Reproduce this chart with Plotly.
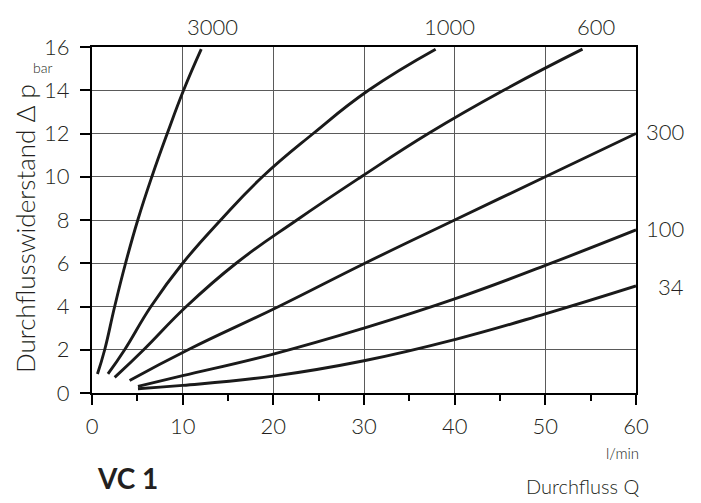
import plotly.graph_objects as go

# Pressure drop Δp (bar) over flow rate Q (l/min) for VC 1, one curve per viscosity
visc_labels = ["3000", "1000", "600", "300", "100", "34"]

q_3000 = [0.6, 1.4, 2.5, 3.7, 5.05, 6.6, 8.3, 10.1, 12.05]
dp_3000 = [0.88, 2.0, 4.0, 6.0, 8.0, 10.0, 12.0, 14.0, 15.9]

q_1000 = [1.76, 3.6, 6.5, 10.0, 14.2, 18.8, 24.4, 30.5, 37.9]
dp_1000 = [0.88, 2.0, 4.0, 6.0, 8.0, 10.0, 12.0, 14.0, 15.9]

q_600 = [2.5, 5.7, 10.4, 15.9, 22.6, 29.7, 37.1, 45.4, 54.1]
dp_600 = [0.72, 2.0, 4.0, 6.0, 8.0, 10.0, 12.0, 14.0, 15.9]

q_300 = [4.15, 10.6, 20.6, 30.1, 40.0, 50.0, 60.0]
dp_300 = [0.58, 2.0, 4.0, 6.0, 8.0, 10.0, 12.0]

q_100 = [5.07, 10.0, 20.0, 30.0, 40.0, 50.0, 60.0]
dp_100 = [0.31, 0.8, 1.8, 3.0, 4.35, 5.9, 7.54]

q_34 = [5.07, 10.0, 20.0, 30.0, 40.0, 50.0, 60.0]
dp_34 = [0.2, 0.35, 0.78, 1.49, 2.47, 3.66, 4.95]

x_ticks = [0, 10, 20, 30, 40, 50, 60]
y_ticks = [0, 2, 4, 6, 8, 10, 12, 14, 16]

series = [
    (q_3000, dp_3000),
    (q_1000, dp_1000),
    (q_600, dp_600),
    (q_300, dp_300),
    (q_100, dp_100),
    (q_34, dp_34),
]

FONT = "Lato"
TXT = "#231f20"

fig = go.Figure()
for name, (q, dp) in zip(visc_labels, series):
    fig.add_trace(go.Scatter(
        x=q, y=dp, mode="lines", name=name,
        line=dict(color="#1a1a1a", width=2.9, shape="spline", smoothing=1.3),
        hoverinfo="skip", showlegend=False,
    ))

axis_common = dict(
    showline=True, linecolor="black", linewidth=2, mirror=True,
    showgrid=True, gridcolor="#5a5a5a", gridwidth=1,
    zeroline=False,
    ticks="outside", ticklen=10, tickwidth=1.5, tickcolor="black",
    tickfont=dict(family=FONT, size=22, color=TXT, weight=300),
)

fig.update_xaxes(
    range=[0, 60], tickvals=x_ticks, ticktext=[str(v) for v in x_ticks],
    minor=dict(dtick=5, tick0=0, ticks="outside", ticklen=6, tickwidth=1.5,
               tickcolor="black", showgrid=False),
    ticklabelstandoff=3,
    **axis_common,
)
fig.update_yaxes(
    range=[0, 16], tickvals=y_ticks, ticktext=[str(v) for v in y_ticks],
    ticklabelstandoff=6,
    **axis_common,
)

annotations = []
# curve labels above the top edge (x in pixels of the page)
for text, px in [("3000", 212), ("1000", 449), ("600", 596)]:
    annotations.append(dict(
        text=text, xref="paper", yref="paper",
        x=(px - 92) / 544, y=(393.3 - 26) / 346.6,
        xanchor="center", yanchor="middle", showarrow=False,
        font=dict(family=FONT, size=22, color=TXT, weight=300),
    ))
# curve labels to the right of the plot
for text, ypx in [("300", 131), ("100", 229), ("34", 287)]:
    annotations.append(dict(
        text=text, xref="paper", yref="paper",
        x=(686 - 92) / 544, y=(393.3 - ypx) / 346.6,
        xanchor="right", yanchor="middle", showarrow=False,
        font=dict(family=FONT, size=22, color=TXT, weight=300),
    ))

# axis titles and units
annotations += [
    dict(text="Durchflusswiderstand Δ p", xref="paper", yref="paper",
         x=(25 - 92) / 544, y=(393.3 - 229) / 346.6, textangle=-90,
         xanchor="center", yanchor="middle", showarrow=False,
         font=dict(family=FONT, size=26, color=TXT, weight=300)),
    dict(text="bar", xref="paper", yref="paper",
         x=(42 - 92) / 544, y=(393.3 - 67) / 346.6,
         xanchor="center", yanchor="middle", showarrow=False,
         font=dict(family=FONT, size=14, color=TXT, weight=300)),
    dict(text="l/min", xref="paper", yref="paper",
         x=(641 - 92) / 544, y=(393.3 - 453) / 346.6,
         xanchor="right", yanchor="middle", showarrow=False,
         font=dict(family=FONT, size=15, color=TXT, weight=300)),
    dict(text="Durchfluss Q", xref="paper", yref="paper",
         x=(641 - 92) / 544, y=(393.3 - 486) / 346.6,
         xanchor="right", yanchor="middle", showarrow=False,
         font=dict(family=FONT, size=20, color=TXT, weight=300)),
    dict(text="<b>VC 1</b>", xref="paper", yref="paper",
         x=(95 - 92) / 544, y=(393.3 - 478) / 346.6,
         xanchor="left", yanchor="middle", showarrow=False,
         font=dict(family=FONT, size=28, color=TXT)),
]

fig.update_layout(
    width=701, height=503,
    margin=dict(l=92, r=65, t=47, b=110),
    paper_bgcolor="white", plot_bgcolor="white",
    annotations=annotations,
)

fig.write_html("out.html")
